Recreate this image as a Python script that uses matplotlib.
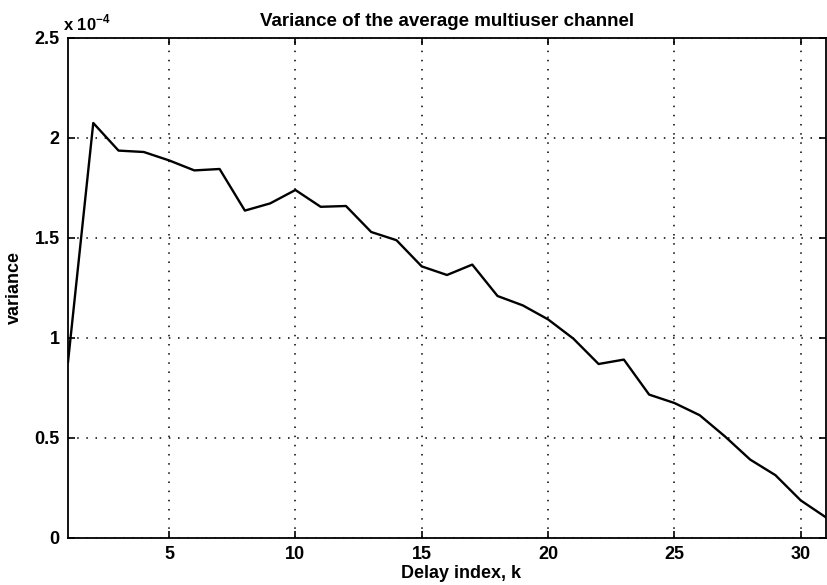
import matplotlib
matplotlib.use("Agg")
import matplotlib.pyplot as plt
from matplotlib.ticker import FixedLocator, FixedFormatter

# Data (variance in units of 1e-4)
k = list(range(1, 32))
variance_e4 = [0.88, 2.075, 1.937, 1.93, 1.888, 1.838, 1.845, 1.637, 1.673, 1.74,
               1.656, 1.66, 1.53, 1.489, 1.358, 1.315, 1.367, 1.21, 1.163, 1.093,
               0.997, 0.87, 0.892, 0.717, 0.675, 0.614, 0.508, 0.392, 0.314, 0.188,
               0.103]
variance = [v * 1e-4 for v in variance_e4]

xticks = [5, 10, 15, 20, 25, 30]
xtick_labels = ["5", "10", "15", "20", "25", "30"]
yticks = [0, 0.5e-4, 1e-4, 1.5e-4, 2e-4, 2.5e-4]
ytick_labels = ["0", "0.5", "1", "1.5", "2", "2.5"]

title = "Variance of the average multiuser channel"
xlabel = "Delay index, k"
ylabel = "variance"
offset_label = r"x 10$^{\mathbf{-4}}$"

plt.rcParams['font.family'] = ['Liberation Sans', 'DejaVu Sans']
plt.rcParams['font.weight'] = 'bold'
plt.rcParams['mathtext.fontset'] = 'custom'
plt.rcParams['mathtext.rm'] = 'Liberation Sans:bold'
plt.rcParams['mathtext.bf'] = 'Liberation Sans:bold'

fig = plt.figure(figsize=(8.27, 5.85), dpi=100)
W, H = 827, 585
left, right, top, bottom = 68, 826, 38, 538
ax = fig.add_axes([left / W, 1 - bottom / H, (right - left) / W, (bottom - top) / H])

ax.plot(k, variance, color="black", lw=1.7, clip_on=True)

ax.set_xlim(1, 31)
ax.set_ylim(0, 2.5e-4)
ax.xaxis.set_major_locator(FixedLocator(xticks))
ax.xaxis.set_major_formatter(FixedFormatter(xtick_labels))
ax.yaxis.set_major_locator(FixedLocator(yticks))
ax.yaxis.set_major_formatter(FixedFormatter(ytick_labels))

ax.grid(True, color="black", linestyle=(0, (1, 5)), lw=1.1)
ax.tick_params(direction="in", length=5, width=1.2, top=True, right=True,
               labelsize=13, colors="black", pad=6)
for lbl in ax.get_xticklabels() + ax.get_yticklabels():
    lbl.set_fontweight("bold")
for s in ax.spines.values():
    s.set_linewidth(1.3)

ax.set_title(title, fontsize=13.5, pad=9, fontweight="bold")
ax.set_xlabel(xlabel, fontsize=13, labelpad=1, fontweight="bold")
ax.xaxis.set_label_coords(0.518, -0.055)
ax.set_ylabel(ylabel, fontsize=13, labelpad=8, fontweight="bold")
ax.text(-0.006, 1.01, offset_label, transform=ax.transAxes, fontsize=12,
        ha="left", va="bottom", fontweight="bold")

fig.savefig("out.png", dpi=100)
